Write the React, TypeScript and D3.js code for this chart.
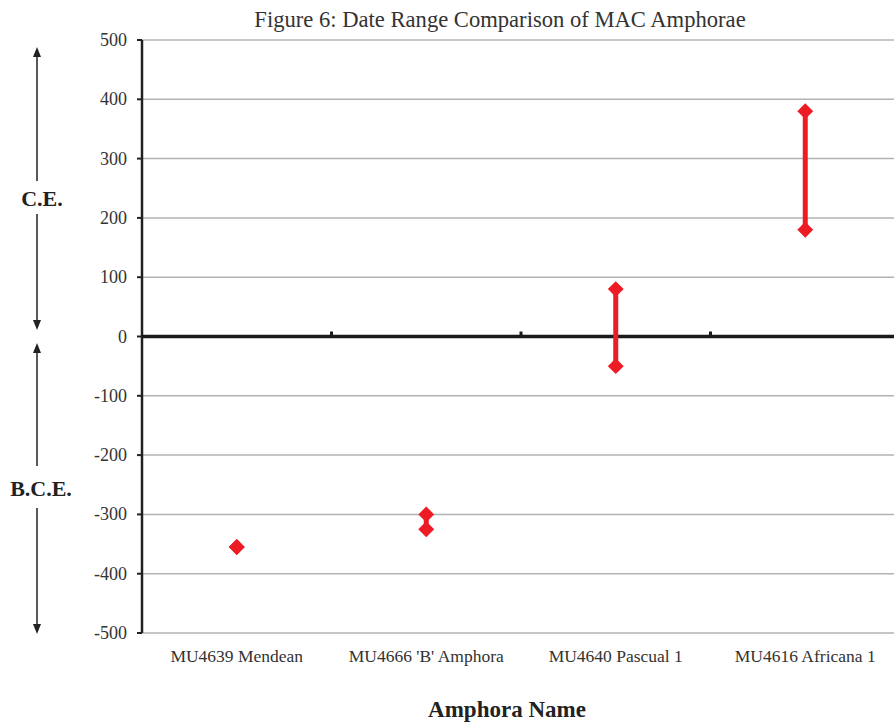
import React from "react";
import * as d3 from "d3";

const categories = ["MU4639 Mendean", "MU4666 'B' Amphora", "MU4640 Pascual 1", "MU4616 Africana 1"];
const startDates = [-355, -325, -50, 180];
const endDates = [-355, -300, 80, 380];
const yTicks = [500, 400, 300, 200, 100, 0, -100, -200, -300, -400, -500];

const W = 894, H = 722;
const left = 142, right = 900, top = 40, bottom = 633;
const serif = "'Liberation Serif', 'DejaVu Serif', serif";
const red = "#ed1c24";

export default function App() {
  const x = d3.scaleBand<string>().domain(categories).range([left, right]).padding(0);
  const y = d3.scaleLinear().domain([-500, 500]).range([bottom, top]);
  const diamond = d3.symbol().type(d3.symbolDiamond2).size(160)();
  const boundaries = categories.slice(1).map((c) => x(c)!);

  const arrow = (x0: number, y0: number, y1: number, dir: "up" | "down") => {
    const hy = dir === "up" ? y0 : y1;
    const s = dir === "up" ? 1 : -1;
    return (
      <g>
        <line x1={x0} x2={x0} y1={y0 + (dir === "up" ? 8 : 0)} y2={y1 - (dir === "down" ? 8 : 0)} stroke="#222" strokeWidth={1.5} />
        <path d={`M${x0},${hy} L${x0 - 4},${hy + s * 10} L${x0 + 4},${hy + s * 10} Z`} fill="#222" />
      </g>
    );
  };

  return (
    <svg width={W} height={H} style={{ display: "block", position: "absolute", left: 0, top: 0 }}>
      <rect width={W} height={H} fill="#fff" />
      <text x={500} y={27} textAnchor="middle" fontFamily={serif} fontSize={22.6} fill="#333">
        Figure 6: Date Range Comparison of MAC Amphorae
      </text>
      {yTicks.filter((t) => t !== 0).map((t) => (
        <line key={t} x1={left} x2={right} y1={y(t)} y2={y(t)} stroke="#b3b3b3" strokeWidth={1.5} />
      ))}
      <line x1={left} x2={left} y1={top} y2={bottom} stroke="#222" strokeWidth={2.5} />
      {yTicks.map((t) => (
        <g key={t}>
          <line x1={left - 5} x2={left} y1={y(t)} y2={y(t)} stroke="#222" strokeWidth={2} />
          <text x={left - 15} y={y(t) + 6} textAnchor="end" fontFamily={serif} fontSize={18} fill="#333">
            {t}
          </text>
        </g>
      ))}
      <line x1={left} x2={right} y1={y(0)} y2={y(0)} stroke="#1a1a1a" strokeWidth={3.5} />
      {boundaries.map((b, i) => (
        <line key={i} x1={b} x2={b} y1={y(0) - 5} y2={y(0)} stroke="#1a1a1a" strokeWidth={3} />
      ))}
      {categories.map((c, i) => {
        const cx = x(c)! + x.bandwidth() / 2;
        return (
          <g key={c}>
            <line x1={cx} x2={cx} y1={y(startDates[i])} y2={y(endDates[i])} stroke={red} strokeWidth={5} />
            <path d={diamond!} transform={`translate(${cx},${y(startDates[i])})`} fill={red} />
            <path d={diamond!} transform={`translate(${cx},${y(endDates[i])})`} fill={red} />
            <text x={cx} y={662} textAnchor="middle" fontFamily={serif} fontSize={17.5} fill="#333">
              {c}
            </text>
          </g>
        );
      })}
      <text x={507} y={717} textAnchor="middle" fontFamily={serif} fontSize={23} fontWeight="bold" fill="#222">
        Amphora Name
      </text>
      {arrow(37, 47, 181, "up")}
      {arrow(37, 214, 330, "down")}
      <text x={42} y={206} textAnchor="middle" fontFamily={serif} fontSize={22} fontWeight="bold" fill="#222">
        C.E.
      </text>
      {arrow(37, 343, 466, "up")}
      {arrow(37, 508, 634, "down")}
      <text x={41} y={496} textAnchor="middle" fontFamily={serif} fontSize={22} fontWeight="bold" fill="#222">
        B.C.E.
      </text>
    </svg>
  );
}
